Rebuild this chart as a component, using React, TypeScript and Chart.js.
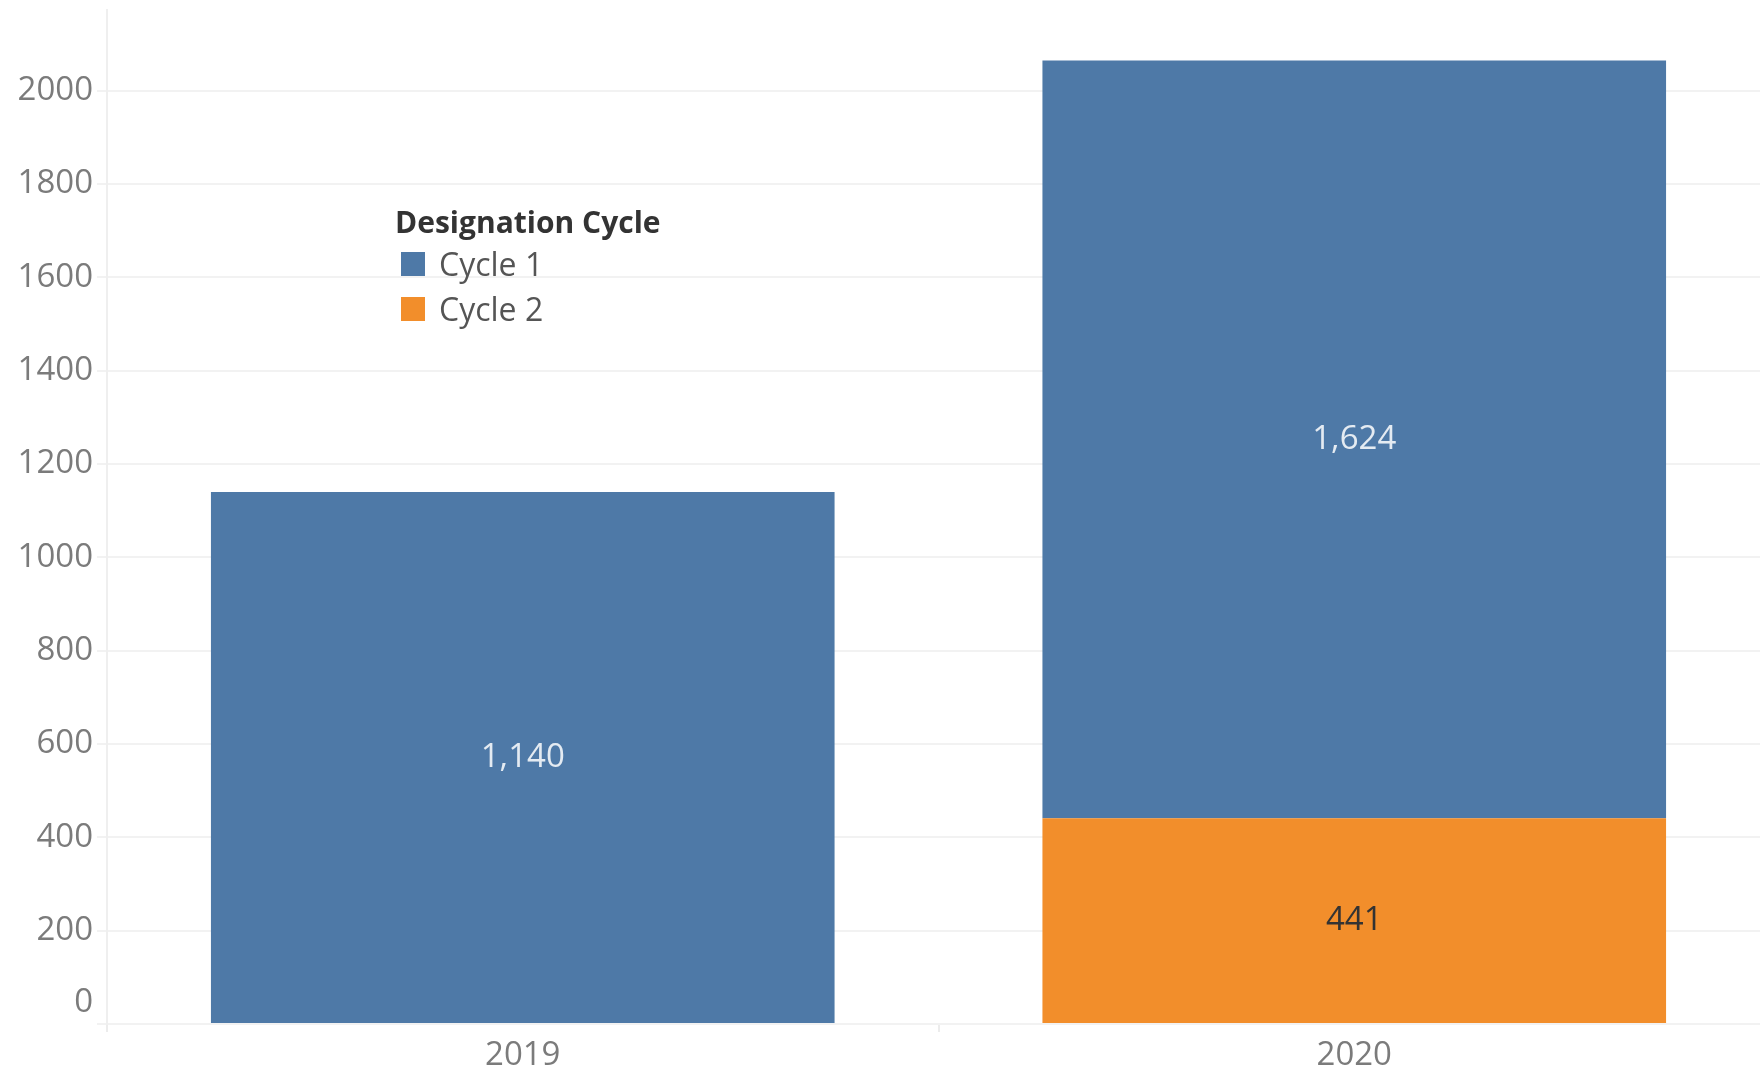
import React, { useEffect, useRef } from "react";
import { Chart, registerables } from "chart.js";

Chart.register(...registerables);

const categories = ["2019", "2020"];
const cycle1Values = [1140, 1624];
const cycle2Values: (number | null)[] = [null, 441];
const yTicks = [0, 200, 400, 600, 800, 1000, 1200, 1400, 1600, 1800, 2000];
const seriesNames = ["Cycle 1", "Cycle 2"];
const seriesColors = ["#4e79a7", "#f28e2b"];
const legendTitle = "Designation Cycle";

const FONT = "'Open Sans', 'DejaVu Sans', sans-serif";
const TEXT_SIZE = 33;

const labelPlugin = {
  id: "valueLabels",
  afterDatasetsDraw(chart: any) {
    const ctx = chart.ctx;
    ctx.save();
    ctx.font = `${TEXT_SIZE}px ${FONT}`;
    ctx.textAlign = "center";
    ctx.textBaseline = "middle";
    chart.data.datasets.forEach((ds: any, di: number) => {
      const meta = chart.getDatasetMeta(di);
      meta.data.forEach((el: any, i: number) => {
        const v = ds.data[i];
        if (v === null || v === undefined) return;
        const props = el.getProps(["x", "y", "base"], true);
        ctx.fillStyle = ds.labelColor;
        ctx.fillText(v.toLocaleString("en-US"), props.x, (props.y + props.base) / 2);
      });
    });
    ctx.restore();
  },
};

const legendPlugin = {
  id: "innerLegend",
  afterDraw(chart: any) {
    const ctx = chart.ctx;
    ctx.save();
    ctx.textBaseline = "middle";
    ctx.textAlign = "left";
    ctx.font = `bold 30px ${FONT}`;
    ctx.fillStyle = "#333333";
    ctx.fillText(legendTitle, 395, 224);
    ctx.font = `32px ${FONT}`;
    seriesNames.forEach((name, i) => {
      const cy = 264 + i * 45;
      ctx.fillStyle = seriesColors[i];
      ctx.fillRect(401, cy - 12, 24, 24);
      ctx.fillStyle = "#555555";
      ctx.fillText(name, 439, cy + 3);
    });
    ctx.restore();
  },
};

const zeroLabelPlugin = {
  id: "zeroLabel",
  afterDraw(chart: any) {
    const ctx = chart.ctx;
    const y = chart.scales.y;
    ctx.save();
    ctx.font = `${TEXT_SIZE}px ${FONT}`;
    ctx.fillStyle = "#7b7b7b";
    ctx.textAlign = "right";
    ctx.textBaseline = "middle";
    ctx.fillText(String(yTicks[0]), y.right - 14, y.getPixelForValue(yTicks[0]) - 21);
    ctx.restore();
  },
};

export default function App() {
  const canvasRef = useRef<HTMLCanvasElement | null>(null);

  useEffect(() => {
    if (!canvasRef.current) return;
    const chart = new Chart(canvasRef.current, {
      type: "bar",
      data: {
        labels: categories,
        datasets: [
          {
            label: seriesNames[1],
            data: cycle2Values,
            backgroundColor: seriesColors[1],
            labelColor: "#333333",
            barPercentage: 0.75,
            categoryPercentage: 1,
          } as any,
          {
            label: seriesNames[0],
            data: cycle1Values,
            backgroundColor: seriesColors[0],
            labelColor: "rgba(255,255,255,0.85)",
            barPercentage: 0.75,
            categoryPercentage: 1,
          } as any,
        ],
      },
      options: {
        animation: false,
        responsive: false,
        devicePixelRatio: 1,
        layout: { padding: { top: 10, left: 0, right: 0, bottom: 0 } },
        plugins: {
          legend: { display: false },
          tooltip: { enabled: false },
        },
        scales: {
          x: {
            stacked: true,
            afterFit(scale: any) {
              scale.height = 47;
              scale.paddingLeft = 0;
              scale.paddingRight = 0;
            },
            grid: {
              display: true,
              drawOnChartArea: false,
              drawTicks: true,
              tickLength: 8,
              tickColor: "#ececec",
              color: "#ececec",
              lineWidth: 2,
            },
            border: { display: false },
            ticks: {
              color: "#7b7b7b",
              font: { family: FONT, size: TEXT_SIZE },
              padding: 4,
            },
          },
          y: {
            stacked: true,
            min: 0,
            max: 2173,
            afterFit(scale: any) {
              scale.width = 107;
              scale.paddingTop = 0;
              scale.paddingBottom = 0;
            },
            afterBuildTicks(scale: any) {
              scale.ticks = yTicks.map((v) => ({ value: v }));
            },
            grid: {
              color: "#f2f2f2",
              lineWidth: 2,
              drawTicks: true,
              tickLength: 10,
              tickColor: "#f2f2f2",
            },
            border: { display: true, color: "#efefef", width: 2 },
            ticks: {
              color: (c: any) => (c.tick && c.tick.value === 0 ? "rgba(0,0,0,0)" : "#7b7b7b"),
              font: { family: FONT, size: TEXT_SIZE },
              padding: 4,
              callback: (v: any) => String(v),
            },
          },
        },
      },
      plugins: [labelPlugin, legendPlugin, zeroLabelPlugin],
    });
    return () => chart.destroy();
  }, []);

  return (
    <div
      style={{
        position: "fixed",
        left: 0,
        top: 0,
        width: 1760,
        height: 1071,
        overflow: "hidden",
        background: "#ffffff",
      }}
    >
      <canvas ref={canvasRef} width={1770} height={1071} style={{ display: "block", width: 1770, height: 1071 }} />
    </div>
  );
}
